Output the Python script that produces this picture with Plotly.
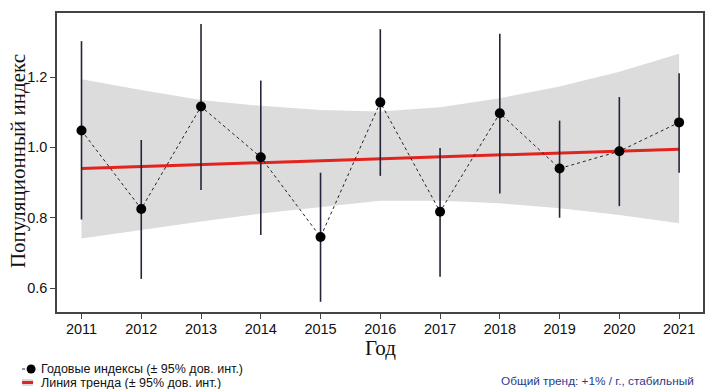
import plotly.graph_objects as go

# Annual population indices with 95% confidence limits
years = [2011, 2012, 2013, 2014, 2015, 2016, 2017, 2018, 2019, 2020, 2021]
index = [1.048, 0.825, 1.116, 0.972, 0.745, 1.128, 0.817, 1.097, 0.940, 0.989, 1.071]
ci_low = [0.795, 0.626, 0.879, 0.751, 0.561, 0.919, 0.632, 0.869, 0.800, 0.833, 0.928]
ci_high = [1.302, 1.021, 1.351, 1.190, 0.928, 1.336, 0.998, 1.323, 1.076, 1.143, 1.211]

# Fitted trend and its 95% confidence band
trend = [0.940, 0.9455, 0.951, 0.9565, 0.962, 0.9675, 0.973, 0.9785, 0.984, 0.9895, 0.995]
band_low = [0.741, 0.765, 0.789, 0.812, 0.831, 0.848, 0.848, 0.841, 0.827, 0.808, 0.784]
band_high = [1.194, 1.163, 1.135, 1.118, 1.106, 1.102, 1.114, 1.140, 1.173, 1.215, 1.266]

y_ticks = [0.6, 0.8, 1.0, 1.2]

x_title = "Год"
y_title = "Популяционный индекс"
legend_labels = ["Годовые индексы (± 95% дов. инт.)", "Линия тренда (± 95% дов. инт.)"]
trend_note = "Общий тренд: +1% / г., стабильный"

W, H = 708, 389
L, R, T, B = 57, 3, 13, 77
plot_w, plot_h = W - L - R, H - T - B

BAND = "#dcdcdc"
RED = "#e3231f"
BAR = "#23263a"
FRAME = "#444444"
SANS = "Liberation Sans, Arial"
SERIF = "Liberation Serif, Times New Roman"

err_plus = [h - v for h, v in zip(ci_high, index)]
err_minus = [v - l for v, l in zip(index, ci_low)]

fig = go.Figure()

fig.add_trace(go.Scatter(
    x=years + years[::-1], y=band_high + band_low[::-1],
    fill="toself", fillcolor=BAND, line=dict(width=0),
    mode="lines", hoverinfo="skip", showlegend=False,
))

fig.add_trace(go.Scatter(
    x=years, y=trend, mode="lines",
    line=dict(color=RED, width=3), showlegend=False,
))

fig.add_trace(go.Scatter(
    x=years, y=index, mode="lines",
    line=dict(color="#222222", width=1, dash="dot"), showlegend=False,
))

fig.add_trace(go.Scatter(
    x=years, y=index, mode="markers",
    marker=dict(color="black", size=10),
    error_y=dict(type="data", symmetric=False, array=err_plus, arrayminus=err_minus,
                 color=BAR, thickness=1.6, width=0),
    showlegend=False,
))


def px_x(p):
    return (p - L) / plot_w


def px_y(p):
    return (H - B - p) / plot_h


shapes = [
    # legend entry 1: dotted line with a dot
    dict(type="line", xref="paper", yref="paper", x0=px_x(22), x1=px_x(30), y0=px_y(369), y1=px_y(369),
         line=dict(color="#222222", width=1, dash="dot")),
    dict(type="circle", xref="paper", yref="paper", x0=px_x(26.5), x1=px_x(35.5), y0=px_y(373.5), y1=px_y(364.5),
         fillcolor="black", line=dict(width=0)),
    # legend entry 2: trend line over its band
    dict(type="rect", xref="paper", yref="paper", x0=px_x(22), x1=px_x(33), y0=px_y(386), y1=px_y(379),
         fillcolor=BAND, line=dict(width=0)),
    dict(type="line", xref="paper", yref="paper", x0=px_x(22), x1=px_x(33), y0=px_y(382.5), y1=px_y(382.5),
         line=dict(color=RED, width=3)),
]

annotations = [
    dict(text=legend_labels[0], xref="paper", yref="paper", x=px_x(39), y=px_y(369),
         xanchor="left", yanchor="middle", showarrow=False,
         font=dict(family=SANS, size=12.5, color="#111111")),
    dict(text=legend_labels[1], xref="paper", yref="paper", x=px_x(39), y=px_y(383),
         xanchor="left", yanchor="middle", showarrow=False,
         font=dict(family=SANS, size=12.5, color="#111111")),
    dict(text=trend_note, xref="paper", yref="paper", x=px_x(698), y=px_y(381),
         xanchor="right", yanchor="middle", showarrow=False,
         font=dict(family=SANS, size=11.8, color="#2a3a8c")),
    # axis titles
    dict(text=x_title, xref="paper", yref="paper", x=px_x(382), y=px_y(348),
         xanchor="center", yanchor="middle", showarrow=False, borderpad=0,
         font=dict(family=SERIF, size=21, color="#111111")),
    dict(text=y_title, xref="paper", yref="paper", x=px_x(18), y=px_y(161),
         xanchor="center", yanchor="middle", showarrow=False, textangle=-90,
         font=dict(family=SERIF, size=21, color="#111111")),
]

fig.update_layout(
    width=W, height=H,
    margin=dict(l=L, r=R, t=T, b=B),
    paper_bgcolor="white", plot_bgcolor="white",
    showlegend=False,
    shapes=shapes,
    annotations=annotations,
    font=dict(family=SANS, size=14, color="#111111"),
)

fig.update_xaxes(
    range=[2010.59, 2021.4], tickvals=years, ticktext=[str(y) for y in years],
    showgrid=False, zeroline=False,
    showline=True, mirror=True, linecolor=FRAME, linewidth=1.5,
    ticks="outside", ticklen=5, tickcolor=FRAME, tickwidth=1.2,
    ticklabelstandoff=-2,
    tickfont=dict(family=SANS, size=14.5, color="#111111"),
)

fig.update_yaxes(
    range=[0.532, 1.382], tickvals=y_ticks, tickformat=".1f",
    showgrid=False, zeroline=False,
    showline=True, mirror=True, linecolor=FRAME, linewidth=1.5,
    ticks="outside", ticklen=5, tickcolor=FRAME, tickwidth=1.2,
    tickfont=dict(family=SANS, size=14.5, color="#111111"),
)

fig.write_html("out.html")
